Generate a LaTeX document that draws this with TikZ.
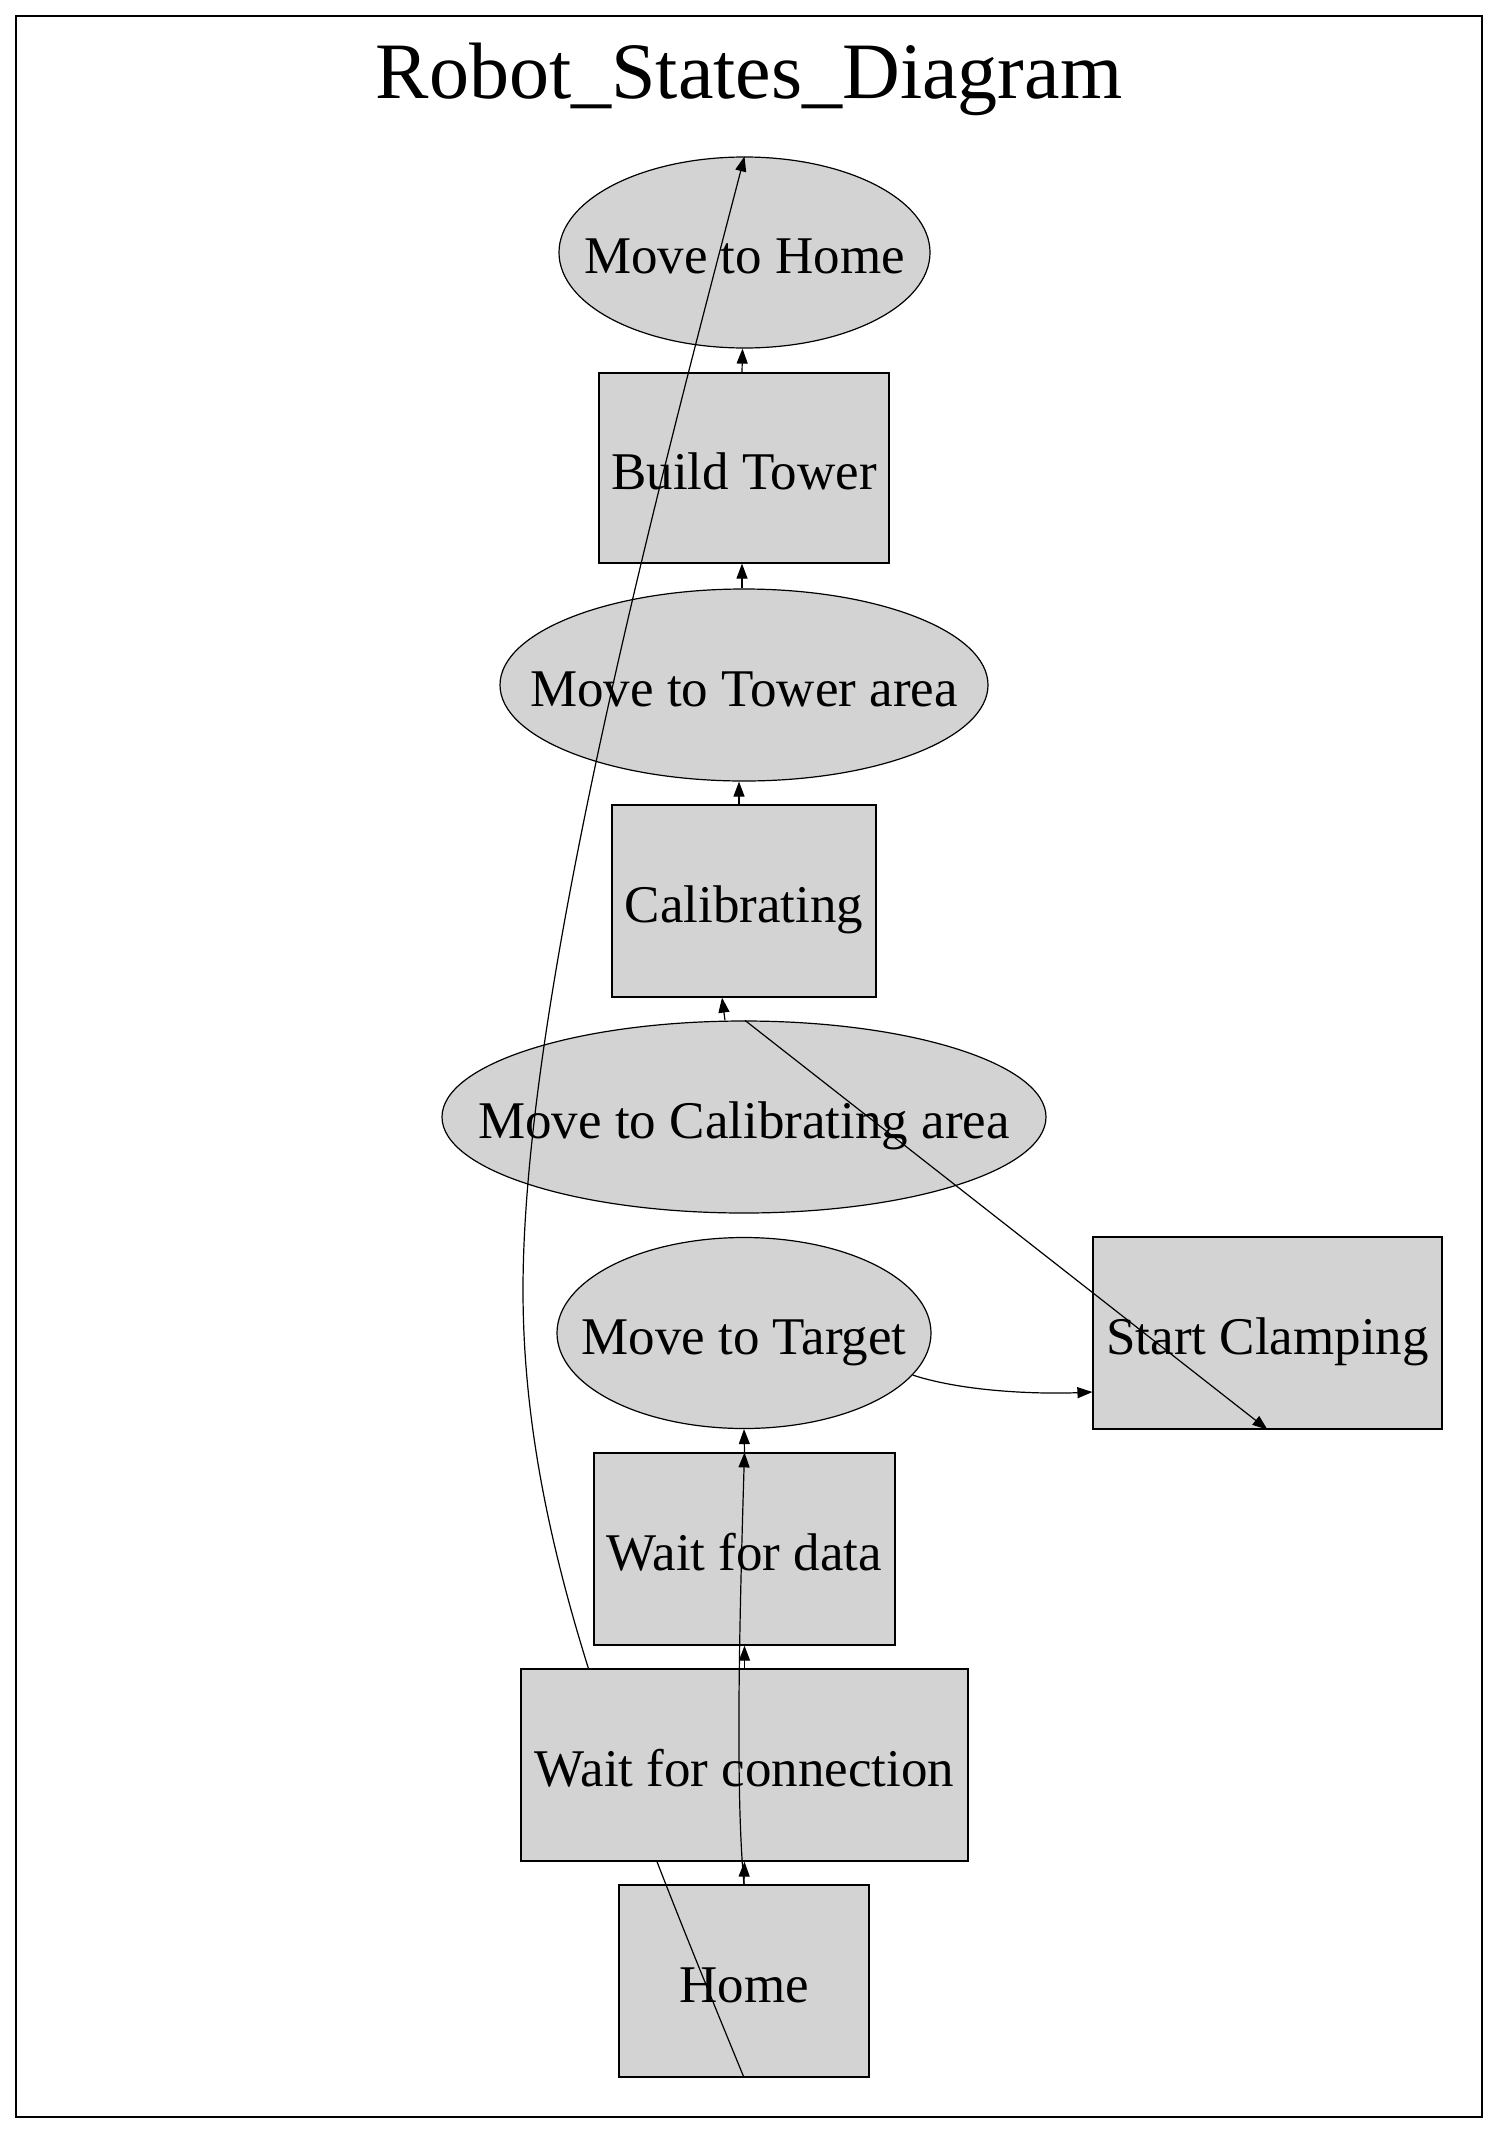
\documentclass[tikz,border=0pt]{standalone}
\usepackage{fontspec}
\setmainfont{Liberation Serif}
\usetikzlibrary{shapes.geometric,arrows.meta,calc}
\definecolor{nodegray}{RGB}{211,211,211}
\newcommand\olabel[1]{\makebox[0pt]{#1}}
\begin{document}
\begin{tikzpicture}[x=1pt,y=-1pt,
  state/.style={draw=black, fill=nodegray, line width=1.2pt, inner sep=0pt,
    font=\fontsize{53}{60}\selectfont, text height=42pt, text depth=0pt},
  oval/.style={state, ellipse},
  box/.style={state, rectangle},
  edge/.style={line width=1.2pt, -{Triangle[length=15pt,width=11pt]}},
]
\useasboundingbox (0,0) rectangle (1498,2133);
\draw[line width=1.2pt] (16,16) rectangle (1482,2117);
\node[font=\fontsize{80}{90}\selectfont, anchor=base, inner sep=0pt] (title) at (749,98) {Robot\_States\_Diagram};

\node[oval, minimum width=371pt, minimum height=191pt] (mth) at (744.5,252.5) {\olabel{Move to Home}};
\node[box, minimum width=290pt, minimum height=190pt] (bt) at (744,468) {Build Tower};
\node[oval, minimum width=488pt, minimum height=192pt] (mtta) at (744,685) {\olabel{Move to Tower area}};
\node[box, minimum width=264pt, minimum height=192pt] (cal) at (744,901) {Calibrating};
\node[oval, minimum width=604pt, minimum height=192pt] (mtca) at (744,1117) {\olabel{Move to Calibrating area}};
\node[oval, minimum width=374pt, minimum height=191pt] (mtt) at (744,1333) {\olabel{Move to Target}};
\node[box, minimum width=349pt, minimum height=192pt] (sc) at (1267.5,1333) {Start Clamping};
\node[box, minimum width=301pt, minimum height=192pt] (wfd) at (744.5,1549) {Wait for data};
\node[box, minimum width=250pt, minimum height=192pt] (home) at (744,1981) {Home};

% long edge, hidden under "Wait for connection"
\draw[edge] (home.south) .. controls +(-123,-300) and (523,1540) .. (523,1290)
  .. controls (523,990) and +(-78,300) .. (mth.north);

\node[box, minimum width=447pt, minimum height=192pt] (wfc) at (744.5,1765) {Wait for connection};

\draw[edge] (home.north) -- (wfc.south);
\draw[edge] (wfc.north) -- (wfd.south);
\draw[edge] (home.north) .. controls +(-8,-85) and +(-6,197) .. (wfd.north);
\draw[edge] (wfd.north) -- (mtt.south);
\draw[edge] (mtt.-14) .. controls +(55,18) and +(-45,2) .. ($(sc.west)+(0,59)$);
\draw[edge] ($(mtca.north)+(-19,0)$) -- ($(cal.south)+(-22,0)$);
\draw[edge] ($(mtca.north)+(1,0)$) -- (sc.south);
\draw[edge] ($(cal.north)+(-5,0)$) -- ($(mtta.south)+(-5,0)$);
\draw[edge] ($(mtta.north)+(-2,0)$) -- ($(bt.south)+(-2,0)$);
\draw[edge] ($(bt.north)+(-2,0)$) -- ($(mth.south)+(-2,0)$);
\end{tikzpicture}
\end{document}
